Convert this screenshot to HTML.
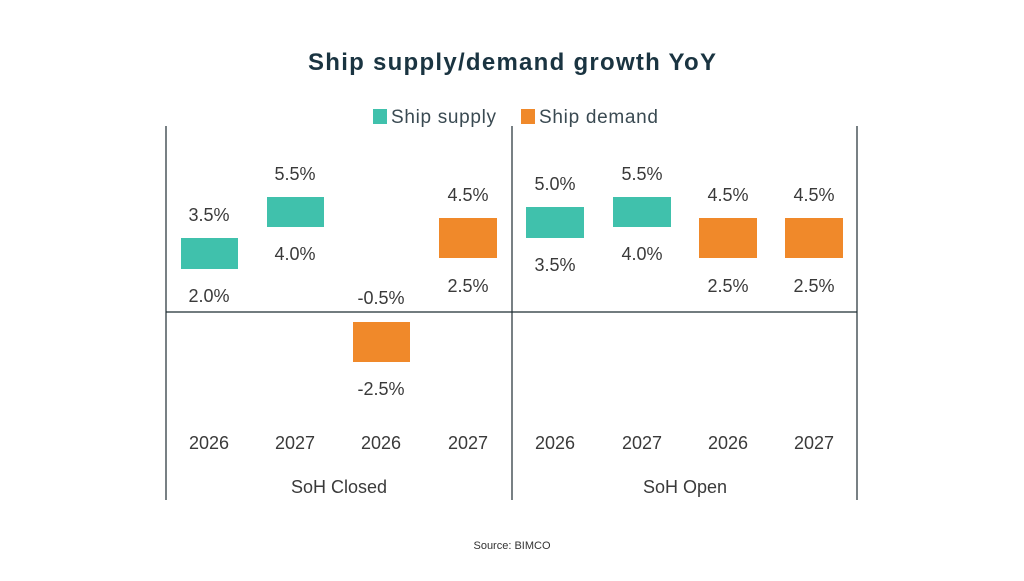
<!DOCTYPE html>
<html><head><meta charset="utf-8"><style>
body{margin:0;width:1024px;height:576px;background:#fff;overflow:hidden}
svg text{font-family:"Liberation Sans",sans-serif}
</style></head><body>
<svg width="1024" height="576" viewBox="0 0 1024 576">
<text x="308" y="70" font-size="24" font-weight="bold" fill="#1a3441" textLength="408" lengthAdjust="spacing">Ship supply/demand  growth YoY</text>
<rect x="373" y="109" width="14" height="15" fill="#40c1ac"/>
<text x="391" y="123" font-size="19" fill="#3a4a52" textLength="105">Ship supply</text>
<rect x="521" y="109" width="14" height="15" fill="#f0892a"/>
<text x="539" y="123" font-size="19" fill="#3a4a52" textLength="119">Ship demand</text>
<g stroke="#1f2d33" stroke-width="1.2">
<line x1="166" y1="126" x2="166" y2="500"/>
<line x1="512" y1="126" x2="512" y2="500"/>
<line x1="857" y1="126" x2="857" y2="500"/>
<line x1="166" y1="312" x2="857" y2="312"/>
</g>
<g font-size="18" fill="#3a3a3a" text-anchor="middle">
<rect x="181" y="238" width="57" height="31" fill="#40c1ac"/>
<text x="209" y="221">3.5%</text><text x="209" y="302">2.0%</text>
<rect x="267" y="197" width="57" height="30" fill="#40c1ac"/>
<text x="295" y="180">5.5%</text><text x="295" y="260">4.0%</text>
<rect x="353" y="322" width="57" height="40" fill="#f0892a"/>
<text x="381" y="304">-0.5%</text><text x="381" y="395">-2.5%</text>
<rect x="439" y="218" width="58" height="40" fill="#f0892a"/>
<text x="468" y="201">4.5%</text><text x="468" y="292">2.5%</text>
<rect x="526" y="207" width="58" height="31" fill="#40c1ac"/>
<text x="555" y="190">5.0%</text><text x="555" y="271">3.5%</text>
<rect x="613" y="197" width="58" height="30" fill="#40c1ac"/>
<text x="642" y="180">5.5%</text><text x="642" y="260">4.0%</text>
<rect x="699" y="218" width="58" height="40" fill="#f0892a"/>
<text x="728" y="201">4.5%</text><text x="728" y="292">2.5%</text>
<rect x="785" y="218" width="58" height="40" fill="#f0892a"/>
<text x="814" y="201">4.5%</text><text x="814" y="292">2.5%</text>
<text x="209" y="449">2026</text><text x="295" y="449">2027</text>
<text x="381" y="449">2026</text><text x="468" y="449">2027</text>
<text x="555" y="449">2026</text><text x="642" y="449">2027</text>
<text x="728" y="449">2026</text><text x="814" y="449">2027</text>
<text x="339" y="493">SoH Closed</text>
<text x="685" y="493">SoH Open</text>
</g>
<text x="512" y="549" text-anchor="middle" font-size="11" fill="#333">Source: BIMCO</text>
</svg>
</body></html>
